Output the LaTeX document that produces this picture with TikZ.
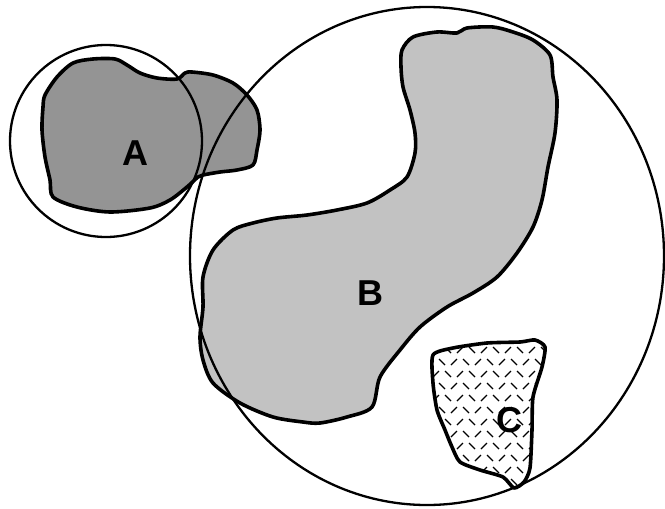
\documentclass[tikz,border=0pt]{standalone}
\usepackage{fontspec}
\setmainfont{Liberation Sans}
\usepackage{tikz}

\tikzset{
  blob/.style={line width=3.6pt, line join=round},
  ring/.style={line width=2.3pt},
  letter/.style={font=\fontsize{36}{36}\selectfont\bfseries, inner sep=0pt}
}

\begin{document}
\begin{tikzpicture}[x=1pt,y=-1pt]
\useasboundingbox (0,0) rectangle (665,509);

% Region A (dark dots)
\def\regA{(45,95) (57,77) (73,63) (93,59) (115,59) (127,65) (140,73) (157,78) (177,79) (185,73) (192,72) (213,75) (233,83) (247,95) (257,110) (260,130) (257,150) (253,165) (237,170) (220,172) (203,175) (198,177) (187,187) (170,200) (150,208) (110,212) (77,207) (53,197) (50,180) (45,157) (42,130) (43,107)}
\fill[black!42] plot[smooth cycle, tension=0.5] coordinates {\regA};
\draw[blob] plot[smooth cycle, tension=0.5] coordinates {\regA};

% Region B (light dots)
\def\regB{(402,50) (413,37) (437,32) (457,33) (467,28) (493,27) (513,32) (533,40) (550,55) (553,77) (557,100) (555,133) (548,167) (542,200) (533,227) (517,253) (497,277) (473,293) (447,307) (420,327) (400,350) (380,377) (372,407) (347,417) (320,423) (303,422) (273,417) (240,403) (213,383) (203,360) (200,337) (203,307) (203,277) (213,250) (233,230) (253,223) (277,218) (307,215) (337,210) (367,203) (390,190) (407,177) (415,153) (415,133) (410,110) (403,87) (401,67)}
\fill[black!24] plot[smooth cycle, tension=0.5] coordinates {\regB};
\draw[blob] plot[smooth cycle, tension=0.5] coordinates {\regB};

% Region C (dashes)
\def\regC{(433,355) (453,348) (487,343) (520,342) (535,340) (545,347) (542,367) (533,397) (532,430) (530,468) (524,482) (514,488) (503,477) (480,470) (460,462) (452,447) (445,430) (437,410) (433,383)}
\begin{scope}
  \clip plot[smooth cycle, tension=0.4] coordinates {\regC};
  \foreach \i in {0,...,10} {
    \foreach \j in {0,...,12} {
      \pgfmathsetmacro{\px}{430+\i*12+mod(\j,2)*6}
      \pgfmathsetmacro{\py}{338+\j*12}
      \ifodd\i
        \draw[line width=1.4pt] (\px-3,\py-3) -- (\px+3,\py+3);
      \else
        \draw[line width=1.4pt] (\px-3,\py+3) -- (\px+3,\py-3);
      \fi
    }
  }
\end{scope}
\draw[blob] plot[smooth cycle, tension=0.4] coordinates {\regC};

% Circles
\draw[ring] (106,141) circle (96);
\draw[ring] (427,256) ellipse (237 and 249);

% Labels
\node[letter] (labA) at (135,153) {A};
\node[letter] (labB) at (370,293) {B};
\node[letter] (labC) at (509,420) {C};

\end{tikzpicture}
\end{document}
